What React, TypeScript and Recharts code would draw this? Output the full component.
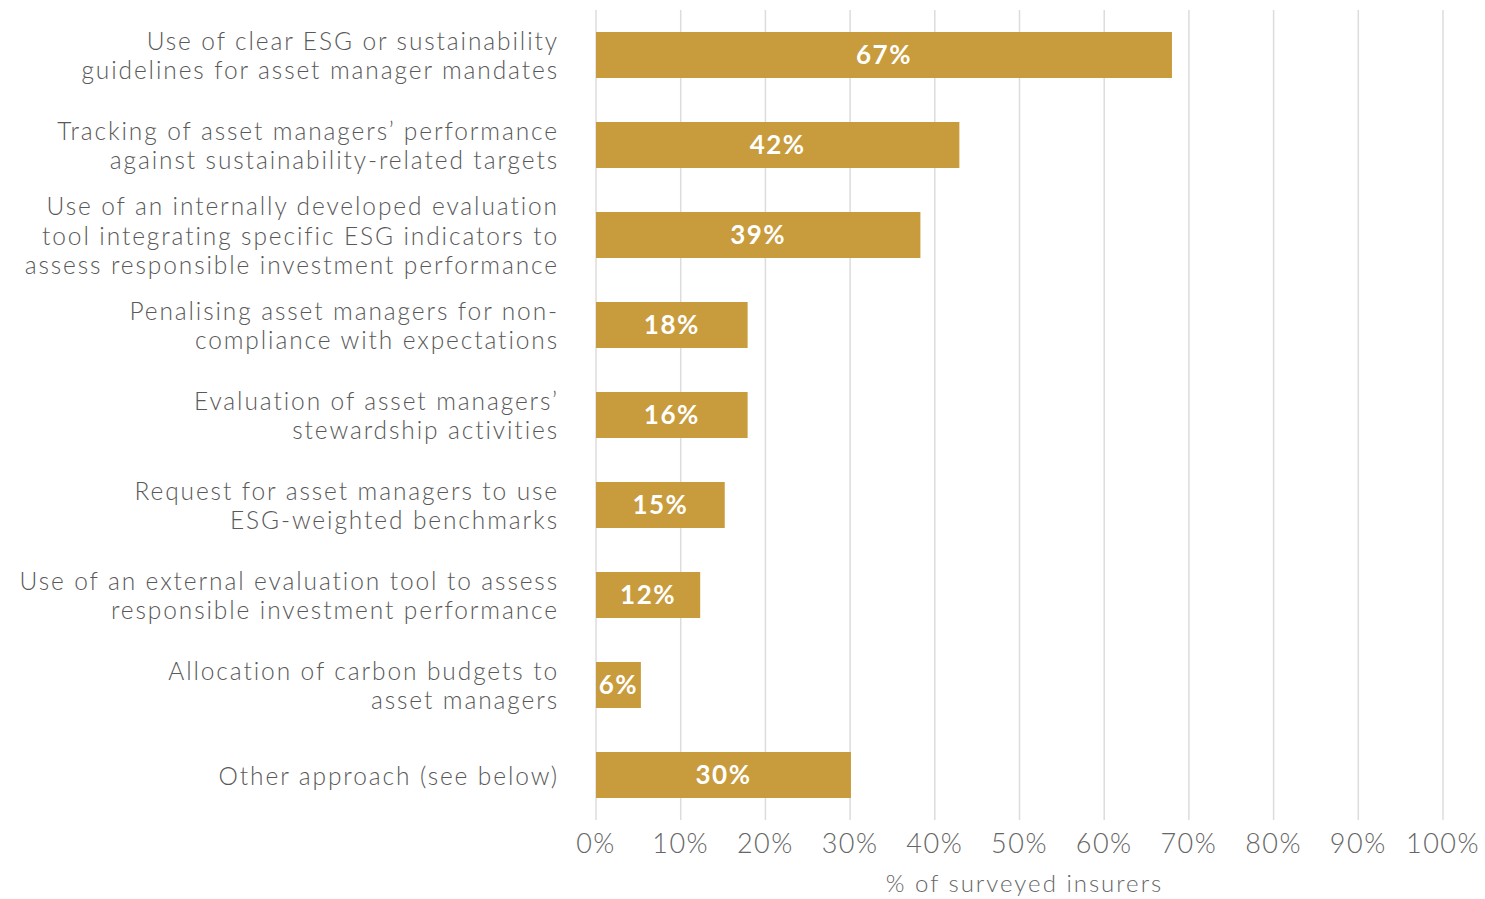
import React from "react";
import { BarChart, Bar, XAxis, YAxis, CartesianGrid, LabelList, Label } from "recharts";

const categories: string[] = [
  "Use of clear ESG or sustainability\nguidelines for asset manager mandates",
  "Tracking of asset managers\u2019 performance\nagainst sustainability-related targets",
  "Use of an internally developed evaluation\ntool integrating specific ESG indicators to\nassess responsible investment performance",
  "Penalising asset managers for non-\ncompliance with expectations",
  "Evaluation of asset managers\u2019\nstewardship activities",
  "Request for asset managers to use\nESG-weighted benchmarks",
  "Use of an external evaluation tool to assess\nresponsible investment performance",
  "Allocation of carbon budgets to\nasset managers",
  "Other approach (see below)",
];

// bar lengths as drawn (% of surveyed insurers)
const barValues: number[] = [68.0, 42.9, 38.3, 17.9, 17.9, 15.2, 12.3, 5.3, 30.1];
// printed labels inside the bars
const valueLabels: string[] = ["67%", "42%", "39%", "18%", "16%", "15%", "12%", "6%", "30%"];

const xTicks: number[] = [0, 10, 20, 30, 40, 50, 60, 70, 80, 90, 100];
const axisTitle = "% of surveyed insurers";

const data = categories.map((c, i) => ({ name: c, value: barValues[i], label: valueLabels[i] }));

const FONT = "Lato, 'Open Sans', sans-serif";
const GOLD = "#C89B3C";

const CategoryTick = (props: any) => {
  const { y, payload } = props;
  const lines: string[] = String(payload.value).split("\n");
  const lh = 29.5;
  const start = y - ((lines.length - 1) * lh) / 2;
  return (
    <g>
      {lines.map((ln, i) => (
        <text
          key={i}
          x={559}
          y={start + i * lh}
          textAnchor="end"
          fill="#595959"
          fontFamily={FONT}
          fontWeight={300}
          fontSize={24.5}
          letterSpacing={1.9}
          dominantBaseline="central"
        >
          {ln}
        </text>
      ))}
    </g>
  );
};

export default function App() {
  return (
    <div style={{ position: "absolute", left: 0, top: 0, width: 1485, height: 899, background: "#fff" }}>
      <BarChart
        width={1485}
        height={899}
        data={data}
        layout="vertical"
        margin={{ top: 10, right: 42, bottom: 0, left: 0 }}
        barCategoryGap={0}
      >
        <CartesianGrid horizontal={false} vertical={true} stroke="#DCDCDC" strokeWidth={1.5} />
        <XAxis
          type="number"
          domain={[0, 100]}
          ticks={xTicks}
          interval={0}
          axisLine={false}
          tickLine={false}
          tickSize={0}
          tickMargin={14}
          height={79}
          tickFormatter={(v: number) => `${v}%`}
          tick={{ fill: "#666666", fontFamily: FONT, fontWeight: 300, fontSize: 27, letterSpacing: 1.5 }}
        >
          <Label
            value={axisTitle}
            position="insideBottom"
            offset={7}
            dx={5}
            fill="#666666"
            fontFamily={FONT}
            fontWeight={300}
            fontSize={24}
            letterSpacing={2}
          />
        </XAxis>
        <YAxis
          type="category"
          dataKey="name"
          width={596}
          axisLine={false}
          tickLine={false}
          tickSize={0}
          interval={0}
          tick={<CategoryTick />}
        />
        <Bar dataKey="value" fill={GOLD} barSize={46} isAnimationActive={false}>
          <LabelList
            dataKey="label"
            position="center"
            fill="#FFFFFF"
            fontFamily={FONT}
            fontWeight={700}
            fontSize={26}
            letterSpacing={1.5}
          />
        </Bar>
      </BarChart>
    </div>
  );
}
